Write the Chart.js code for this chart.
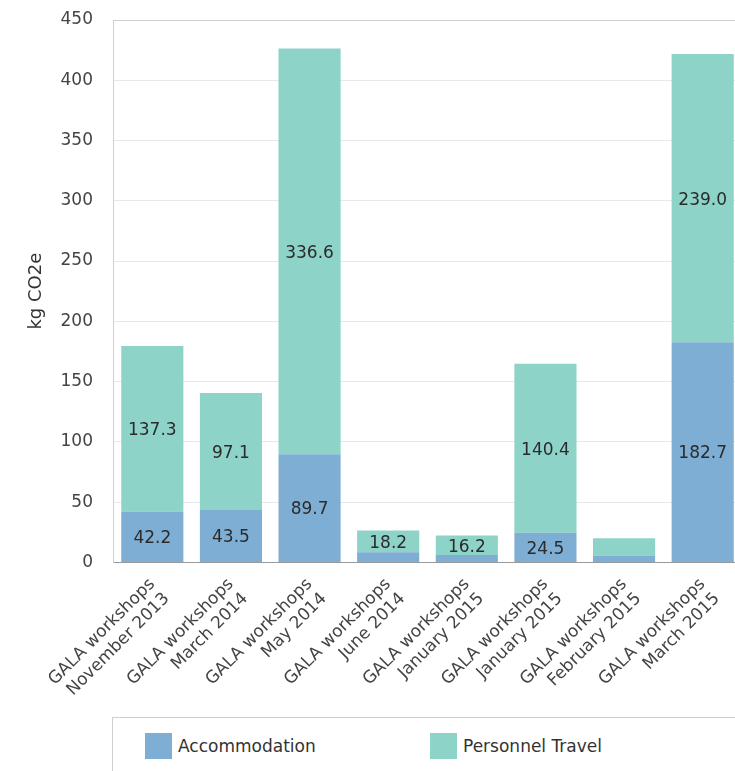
<!DOCTYPE html>
<html>
<head>
<meta charset="utf-8">
<script src="https://cdn.jsdelivr.net/npm/chart.js@4/dist/chart.umd.min.js"></script>
<style>
  body { margin: 0; overflow: hidden; background: #fff; font-family: "DejaVu Sans", sans-serif; }
  #wrap { position: absolute; left: 0; top: 0; width: 760px; height: 716px; }
  #legend { position: absolute; left: 112px; top: 717px; width: 700px; height: 80px;
            border: 1px solid #cfcfcf; box-sizing: border-box; }
  .item { position: absolute; top: 15px; font-size: 17px; color: #333; line-height: 26px; }
  .item span { display: inline-block; width: 27px; height: 26px; vertical-align: top; margin-right: 6px; }
</style>
</head>
<body>
<div id="wrap"><canvas id="chart"></canvas></div>
<div id="legend"></div>
<script>
var categories = [
    ["GALA workshops", "November 2013"],
    ["GALA workshops", "March 2014"],
    ["GALA workshops", "May 2014"],
    ["GALA workshops", "June 2014"],
    ["GALA workshops", "January 2015"],
    ["GALA workshops", "January 2015"],
    ["GALA workshops", "February 2015"],
    ["GALA workshops", "March 2015"]
];
var accommodation = [42.2, 43.5, 89.7, 8.3, 6.2, 24.5, 5.8, 182.7];
var personnelTravel = [137.3, 97.1, 336.6, 18.2, 16.2, 140.4, 14.3, 239.0];
var yTicks = [0, 50, 100, 150, 200, 250, 300, 350, 400, 450];

var font = "'DejaVu Sans', sans-serif";

// values inside the bar segments
var barLabels = {
    id: 'barLabels',
    afterDatasetsDraw: function(chart) {
        var ctx = chart.ctx;
        ctx.save();
        ctx.font = "17px " + font;
        ctx.fillStyle = "#2b2b2b";
        ctx.textAlign = "center";
        ctx.textBaseline = "middle";
        chart.data.datasets.forEach(function(ds, i) {
            chart.getDatasetMeta(i).data.forEach(function(bar, j) {
                if (ds.data[j] < 15) return;
                ctx.fillText(ds.data[j].toFixed(1), bar.x, (bar.y + bar.base) / 2 + 2);
            });
        });
        ctx.restore();
    }
};

var ctx = document.getElementById("chart").getContext("2d");
var chart = new Chart(ctx, {
    type: "bar",
    data: {
        labels: categories,
        datasets: [{
            label: "Accommodation",
            data: accommodation,
            backgroundColor: "#7eaed3"
        }, {
            label: "Personnel Travel",
            data: personnelTravel,
            backgroundColor: "#8dd3c7"
        }]
    },
    options: {
        responsive: true,
        maintainAspectRatio: false,
        animation: false,
        layout: { padding: { left: 0, top: 20, right: 18, bottom: 0 } },
        datasets: { bar: { categoryPercentage: 1, barPercentage: 0.79 } },
        scales: {
            x: {
                stacked: true,
                grid: { display: false, drawTicks: false },
                border: { color: "#999" },
                afterFit: function(scale) { scale.paddingLeft = 0; scale.paddingRight = 0; },
                ticks: {
                    minRotation: 45, maxRotation: 45, padding: 12,
                    color: "#444", font: { family: font, size: 17 }
                }
            },
            y: {
                stacked: true,
                min: 0, max: 450,
                afterBuildTicks: function(axis) {
                    axis.ticks = yTicks.map(function(v) { return { value: v }; });
                },
                afterFit: function(scale) {
                    scale.width = 113;
                    scale.paddingTop = 0;
                    scale.paddingBottom = 0;
                },
                grid: {
                    drawTicks: false,
                    color: function(c) { return c.tick.value === 450 ? "#cfcfcf" : "#e8e8e8"; }
                },
                border: { color: "#cfcfcf" },
                ticks: { padding: 20, color: "#444", font: { family: font, size: 17 } },
                title: {
                    display: true, text: "kg CO2e", color: "#333",
                    font: { family: font, size: 18 },
                    padding: { top: 26, bottom: 13 }
                }
            }
        },
        plugins: {
            legend: { display: false },
            tooltip: { enabled: false }
        }
    },
    plugins: [barLabels]
});

// legend box under the chart
var legendPos = [32, 317];
chart.data.datasets.forEach(function(ds, i) {
    var div = document.createElement("div");
    div.className = "item";
    div.style.left = legendPos[i] + "px";
    div.innerHTML = '<span style="background:' + ds.backgroundColor + '"></span>' + ds.label;
    document.getElementById("legend").appendChild(div);
});
</script>
</body>
</html>
